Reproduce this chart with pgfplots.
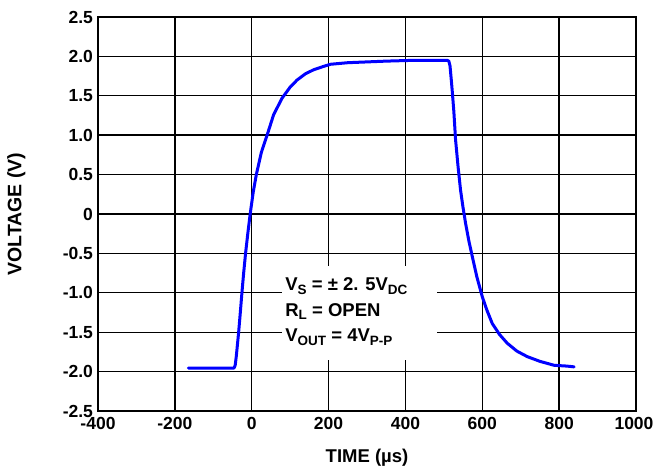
\documentclass[border=0pt]{standalone}
\usepackage{fontspec}
\setmainfont{Liberation Sans}
\usepackage{pgfplots}
\pgfplotsset{compat=1.18}
\newcommand{\sub}[1]{\raisebox{-3.5bp}{\fontsize{13.5bp}{14bp}\selectfont #1}}
\begin{document}
\begin{tikzpicture}
\useasboundingbox (-98bp,-57bp) rectangle (556bp,411bp);
\begin{axis}[
  at={(0,0)}, anchor=south west,
  scale only axis, width=538bp, height=394bp,
  xmin=-400, xmax=1000, ymin=-2.5, ymax=2.5,
  xtick={-400,-200,0,200,400,600,800,1000},
  xticklabels={-400,-200,0,200,400,600,800,{\hspace*{-4bp}1000}},
  ytick={-2.5,-2,-1.5,-1,-0.5,0,0.5,1,1.5,2,2.5},
  yticklabels={-2.5,-2.0,-1.5,-1.0,-0.5,0,0.5,1.0,1.5,2.0,2.5},
  major tick length=0pt,
  grid=major,
  major grid style={black, line width=1.4bp},
  axis line style={black, line width=1.5bp},
  tick label style={font=\fontsize{17.5bp}{21bp}\selectfont\bfseries},
  yticklabel style={xshift=-1.5bp},
  xticklabel style={yshift=-3bp},
  label style={font=\fontsize{18.5bp}{21bp}\selectfont\bfseries},
  xlabel={TIME (µs)},
  ylabel={VOLTAGE (V)},
  xlabel style={at={(axis description cs:0.5,-0.119)}, anchor=center},
  ylabel style={at={(axis description cs:-0.152,0.5)}, anchor=center, rotate=0, font=\fontsize{19.5bp}{21bp}\selectfont\bfseries},
  clip=false,
]
\fill[white] (axis cs:79,-0.66) rectangle (axis cs:481,-1.85);
\addplot[blue, line width=3bp, line join=round, line cap=round] coordinates {
(-165,-1.955) (-140,-1.955) (-110,-1.955) (-80,-1.955) (-60,-1.955) (-46,-1.955)
(-43,-1.92) (-40,-1.80) (-37,-1.65)
(-34,-1.50) (-30,-1.27) (-25.5,-1.00) (-21,-0.75) (-16,-0.50) (-10,-0.24)
(-4,0.00) (4,0.28) (12,0.50) (25,0.78) (40,1.00) (57,1.26) (79,1.47)
(100,1.61) (118,1.70) (140,1.78) (161,1.83) (185,1.87) (205,1.90)
(250,1.92) (300,1.93) (350,1.94) (421,1.95) (480,1.95) (509,1.95)
(513,1.94) (516,1.88) (519,1.72) (522,1.55) (526,1.30) (530.5,0.94)
(537,0.60) (543.5,0.30) (550,0.08) (556.6,-0.12) (565,-0.34) (574,-0.54)
(586,-0.80) (600,-1.05) (612,-1.22) (626,-1.39) (645,-1.53) (665,-1.64)
(690,-1.74) (717,-1.81) (750,-1.87) (787,-1.92) (820,-1.93) (839,-1.94)
};
\node[anchor=base west, inner sep=0pt, font=\fontsize{18.5bp}{21bp}\selectfont\bfseries] at (axis cs:87,-0.977) {V\sub{S} = ± 2. 5V\sub{DC}};
\node[anchor=base west, inner sep=0pt, font=\fontsize{18.5bp}{21bp}\selectfont\bfseries] at (axis cs:87,-1.30) {R\sub{L} = OPEN};
\node[anchor=base west, inner sep=0pt, font=\fontsize{18.5bp}{21bp}\selectfont\bfseries] at (axis cs:87,-1.624) {V\sub{OUT} = 4V\sub{P-P}};
\end{axis}
\end{tikzpicture}
\end{document}
